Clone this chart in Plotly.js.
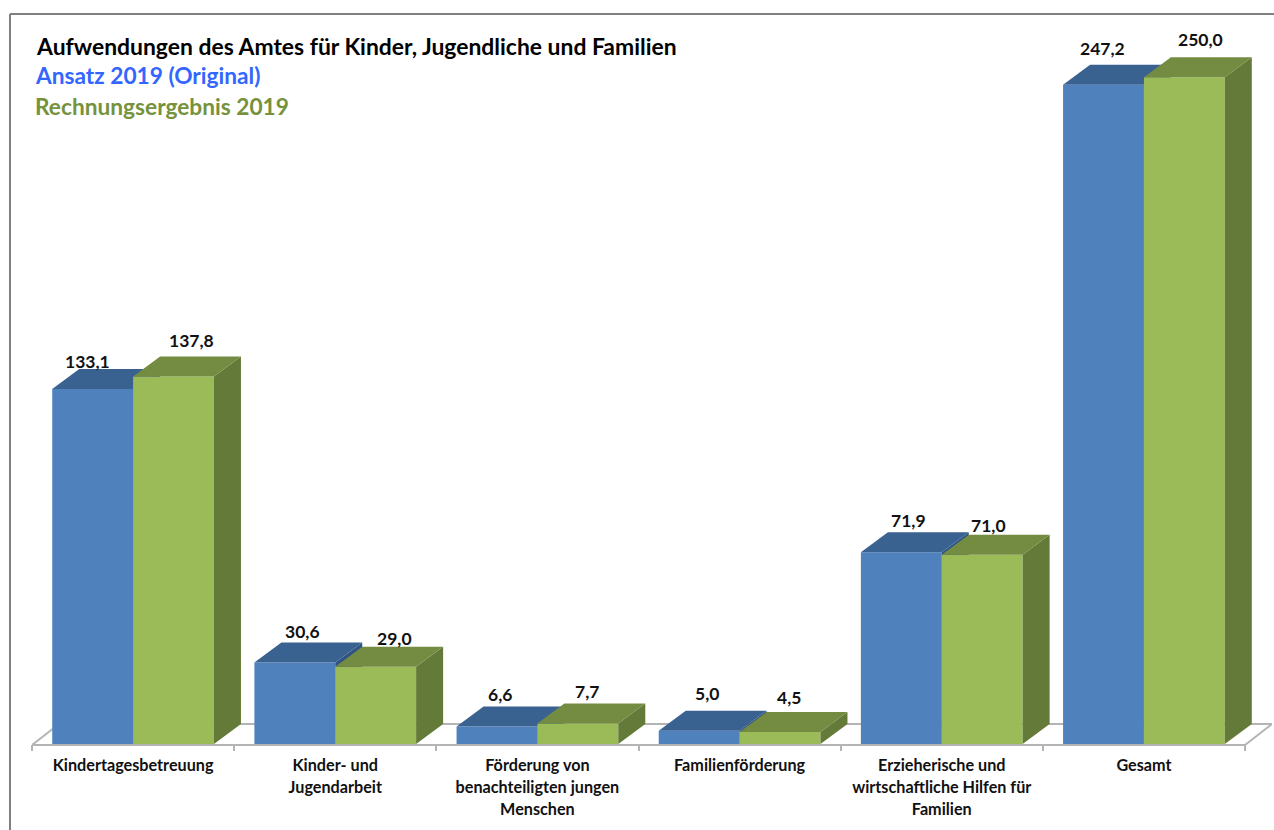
<!DOCTYPE html>
<html><head><meta charset="utf-8">
<script src="https://cdn.plot.ly/plotly-3.0.0.min.js"></script>
<style>html,body{margin:0;padding:0;background:#fff}</style></head>
<body><div id="chart" style="width:1274px;height:830px"></div>
<script>
const categories = ["Kindertagesbetreuung","Kinder- und<br>Jugendarbeit","Förderung von<br>benachteiligten jungen<br>Menschen","Familienförderung","Erzieherische und<br>wirtschaftliche Hilfen für<br>Familien","Gesamt"];
const ansatz = [133.1,30.6,6.6,5.0,71.9,247.2];
const ergebnis = [137.8,29.0,7.7,4.5,71.0,250.0];
const titleText = "Aufwendungen des Amtes für Kinder, Jugendliche und Familien";
const seriesA = "Ansatz 2019 (Original)";
const seriesB = "Rechnungsergebnis 2019";
// hand-placed label offsets (px) relative to the front face top centre
const ansatzShiftX = [-5,8,3,8,7,-1], ansatzShiftY = [28,31,32,37,32,36];
const ergebnisShiftX = [18,19,9,9,6,16], ergebnisShiftY = [36,28,32,35,29,38];

const W=1274,H=830,L=32,R=2,T=14,B=86;
const unitX=202.17, unitY=2.667;
const plotW=W-L-R, plotH=H-T-B;
const xRange=[0,plotW/unitX], yRange=[0,plotH/unitY];
const dx=27/unitX, dy=20/unitY;      // oblique depth of the pseudo-3D boxes
const barW=0.4;
const N=categories.length;
const centers=categories.map((_,i)=>i+0.5);
const bounds=Array.from({length:N+1},(_,i)=>i);
const FONT="Lato, 'Open Sans', sans-serif";
const C={blue:'#4F81BD',blueTop:'#3A6291',blueSide:'#2F5485',green:'#9BBB59',greenTop:'#748C41',greenSide:'#647A38',floor:'#b4b4b4',frame:'#808080'};

function faces(vals,offset){
  const top={x:[],y:[]},side={x:[],y:[]};
  vals.forEach((v,i)=>{
    const a=centers[i]+offset,b=a+barW;
    top.x.push(a,b,b+dx,a+dx,a,null); top.y.push(v,v,v+dy,v+dy,v,null);
    side.x.push(b,b+dx,b+dx,b,b,null); side.y.push(0,dy,v+dy,v,0,null);
  });
  return {top,side};
}
function poly(f,color,xa){return {type:'scatter',mode:'lines',x:f.x,y:f.y,fill:'toself',fillcolor:color,line:{width:0,color:color},hoverinfo:'skip',showlegend:false,xaxis:xa,yaxis:'y'};}
const fa=faces(ansatz,-barW), fb=faces(ergebnis,0);

const traces=[
  {type:'bar',name:seriesA,x:centers,y:ansatz,width:barW,offset:-barW,marker:{color:C.blue,line:{width:0}},xaxis:'x',yaxis:'y',hoverinfo:'y'},
  poly(fa.side,C.blueSide,'x'),poly(fa.top,C.blueTop,'x'),
  {type:'bar',name:seriesB,x:centers,y:ergebnis,width:barW,offset:0,marker:{color:C.green,line:{width:0}},xaxis:'x2',yaxis:'y',hoverinfo:'y'},
  poly(fb.side,C.greenSide,'x2'),poly(fb.top,C.greenTop,'x2')
];

const px=v=>(v-L)/plotW, py=v=>(H-B-v)/plotH;
const backY=dy/yRange[1], frontY=-1/plotH;
const seg=(x0,y0,x1,y1)=>({type:'line',xref:'x',yref:'paper',x0,y0,x1,y1,layer:'below',line:{color:C.floor,width:2}});
const frame=(x0,y0,x1,y1)=>({type:'line',xref:'paper',yref:'paper',x0:px(x0),y0:py(y0),x1:px(x1),y1:py(y1),line:{color:C.frame,width:2}});
const shapes=[
  seg(0,frontY,N,frontY),seg(0,frontY,dx,backY),seg(dx,backY,N+dx,backY),seg(N,frontY,N+dx,backY),
  frame(10,14,1274,14),frame(10,14,10,830)
];
const fmt=v=>v.toFixed(1).replace('.',',');
const lab=(vals,offset,sx,sy)=>vals.map((v,i)=>({xref:'x',yref:'y',x:centers[i]+offset,y:v,xshift:sx[i],yshift:sy[i],text:'<b>'+fmt(v)+'</b>',showarrow:false,xanchor:'center',yanchor:'middle',font:{family:FONT,size:17.5,color:'#111'}}));
const head=(t,y,c)=>({xref:'paper',yref:'paper',x:px(37),y:py(y),text:'<b>'+t+'</b>',showarrow:false,xanchor:'left',yanchor:'middle',borderpad:0,borderwidth:0,xshift:-2,font:{family:FONT,size:22.7,color:c}});
const annotations=[...lab(ansatz,-barW/2,ansatzShiftX,ansatzShiftY),...lab(ergebnis,barW/2,ergebnisShiftX,ergebnisShiftY),
  head(seriesA,76,'#3366FF'),head(seriesB,106,'#76923C')];

const layout={
  width:W,height:H,margin:{l:L,r:R,t:T,b:B,pad:0},paper_bgcolor:'#fff',plot_bgcolor:'rgba(0,0,0,0)',showlegend:false,
  title:{text:'<b>'+titleText+'</b>',x:37/W,xanchor:'left',xref:'container',y:1-47/H,yanchor:'middle',yref:'container',font:{family:FONT,size:22.9,color:'#000'}},
  xaxis:{range:xRange,tickmode:'array',tickvals:centers,ticktext:categories.map(c=>'<span style="font-size:16.2px"><b>'+c.split('<br>').join('</b></span><br><span style="font-size:16.2px"><b>')+'</b></span>'),ticks:'',showgrid:false,zeroline:false,showline:false,tickangle:0,ticklabelstandoff:9,tickfont:{family:FONT,size:17,color:'#111'}},
  xaxis2:{range:xRange,overlaying:'x',anchor:'y',side:'bottom',tickmode:'array',tickvals:bounds,ticks:'outside',ticklen:6,tickwidth:1.5,tickcolor:C.floor,showticklabels:false,showgrid:false,zeroline:false,showline:false},
  yaxis:{range:yRange,visible:false,showgrid:false,zeroline:false},
  shapes,annotations
};
Plotly.newPlot('chart',traces,layout,{displayModeBar:false});
</script></body></html>
